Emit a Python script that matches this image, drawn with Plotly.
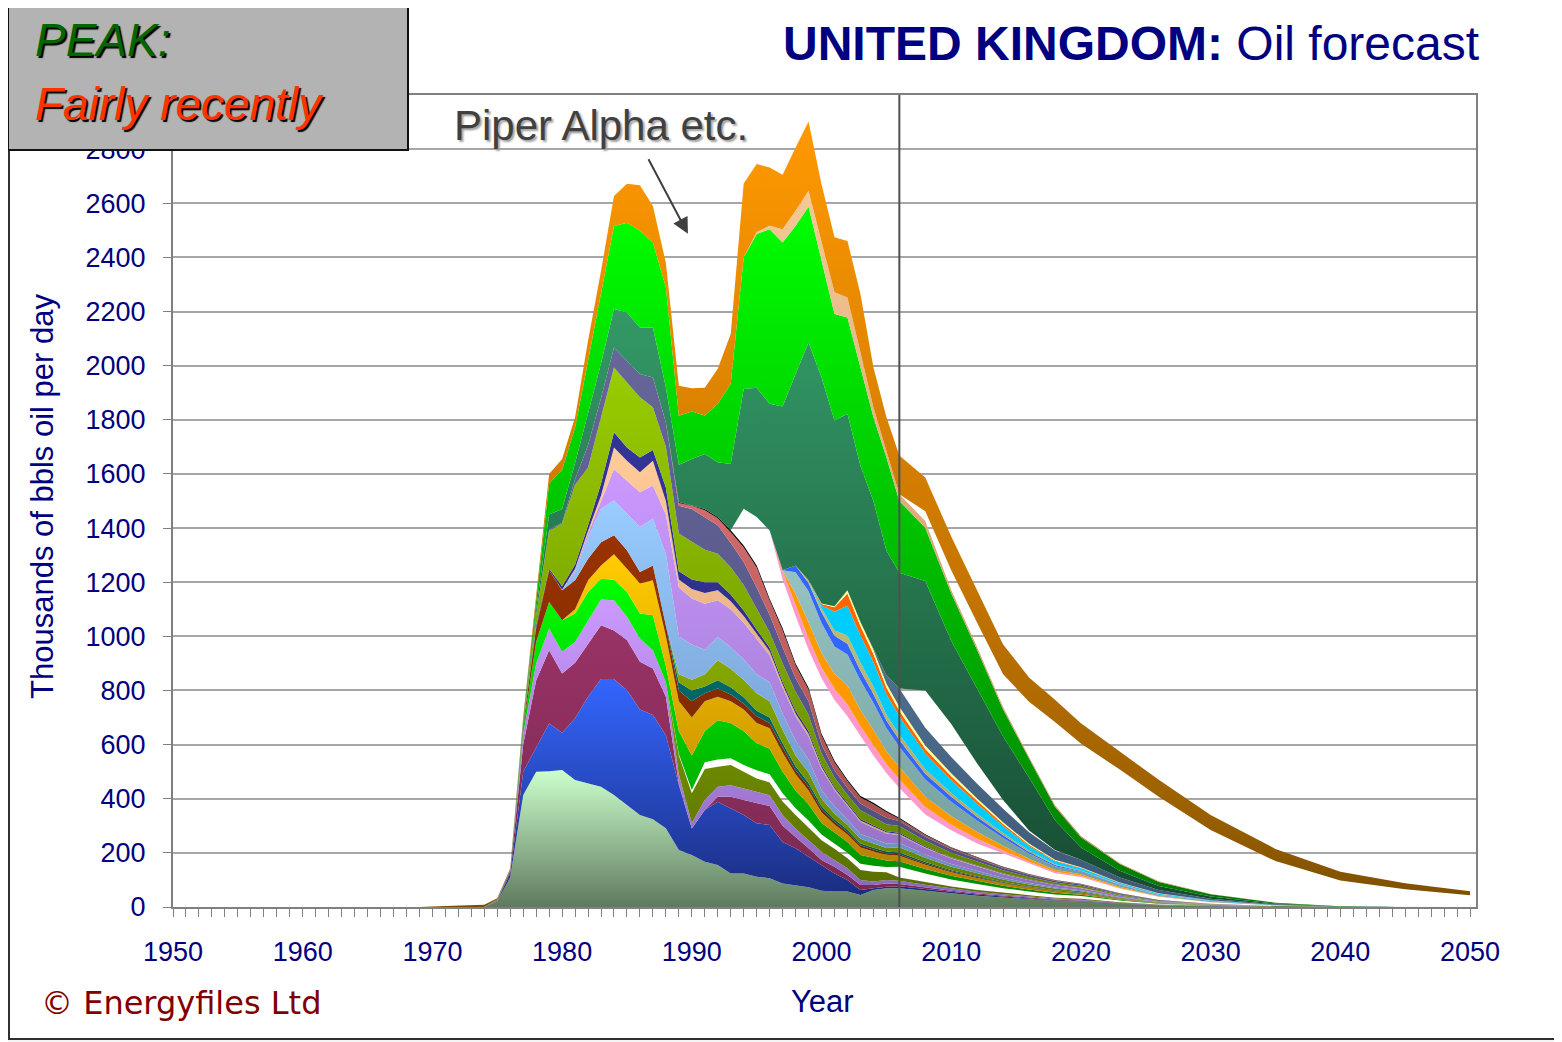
import numpy as np
import plotly.graph_objects as go

# ---------------- DATA (thousand bbl/d, per field group, stacked) ----------------
EARLY_YEARS = [1950, 1969, 1971, 1973, 1974]
HIST_YEARS = list(range(1975, 2007))
FCST_YEARS = [2008, 2010, 2012, 2014, 2016, 2018, 2020, 2023, 2026, 2030, 2035, 2040, 2045, 2050]
TOP_EARLY = [0, 0, 4, 6, 8]

PALE_H = [20,110,414,500,502,506,469,457,444,414,377,340,324,291, 211,192,167,155,124,124,112,106,87,81,73,60,57,57,44,63,69,69]
PALE_F = [60,50,42,35,29,23,20,12,6,3,1,0,0,0]
BLUE_H = [2,15,86,92,176,138,228,320,398,428,424,390,385,344, 239,98,191,234,240,216,197,197,153,136,113,95,67,43,19,6,6,8]
BLUE_F = [6,5,4,3.5,3,2.3,2,1.2,0.6,0.3,0.1,0,0,0]
MAROON_H = [2,8,100,246,271,219,205,196,199,180,185,176,172,142, 5,0,0,18,43,55,74,70,60,43,31,19,25,18,18,12,12,8]
MAROON_F = [6,5,4,3.5,3,2.3,2,1.2,0.6,0.3,0.1,0,0,0]
LILAC_H = [1,2,40,62,80,80,77,86,95,111,86,86,68,53, 35,20,37,37,43,43,43,40,40,30,30,30,25,25,19,13,13,12]
LILAC_F = [10,8,6.6,5.2,4.3,3.5,3.1,1.7,0.9,0.4,0.1,0,0,0]
OLIVE_H = [0,0,0,0,0,0,0,0,0,0,0,0,0,0, 70,110,115,74,75,62,49,47,50,50,48,43,41,37,37,36,28,12]
OLIVE_F = [10,8,6.6,5.2,4.3,3.5,3.1,1.7,0.9,0.4,0.1,0,0,0]
GAP1_H = [0,0,0,0,0,0,0,0,0,0,0,0,0,0, 5,12,25,27,25,25,30,30,30,25,25,21,20,20,23,22,20,40]
GAP1_F = [32,26,22,17,14,12,10,6,3,1.4,0.4,0.2,0,0]
GREEN2_H = [1,1,20,80,98,116,105,105,77,76,92,92,129,60, 85,128,115,145,130,125,100,95,80,65,60,42,40,40,32,31,24,20]
GREEN2_F = [16,13,11,9,7,6,5,3,1.5,0.7,0.2,0.1,0,0]
GOLD_H = [0,0,0,0,0,0,16,43,49,94,86,111,129,110, 110,140,110,87,80,80,75,75,70,60,50,40,30,28,28,22,21,20]
GOLD_F = [16,13,11,9,7,6,5,3,1.5,0.7,0.2,0.1,0,0]
BROWN_H = [1,1,12,50,117,111,107,80,86,70,68,43,55,40, 40,60,30,30,25,22,25,20,20,15,15,12,10,9,8,7,6,6]
BROWN_F = [5,4,3.3,2.6,2.2,1.7,1.5,0.9,0.5,0.2,0.1,0,0,0]
TEAL_H = [0,0,0,0,0,0,0,0,0,0,0,0,0,0, 30,40,25,31,27,23,20,20,15,15,13,10,9,8,7,7,6,6]
TEAL_F = [5,4,3.3,2.6,2.2,1.7,1.5,0.9,0.5,0.2,0.1,0,0,0]
YG2_H = [0,0,0,0,0,0,0,0,0,0,0,0,0,0, 30,40,45,74,68,65,65,60,50,40,39,28,21,18,17,15,13,20]
YG2_F = [16,13,11,9,7,6,5,3,1.5,0.7,0.2,0.1,0,0]
LBLUE_H = [0,0,0,0,0,0,31,80,123,129,135,166,173,265, 140,130,90,86,80,75,70,70,60,55,48,32,27,20,18,18,17,15]
LBLUE_F = [12,10,8,6.5,5.4,4.4,3.8,2.2,1.1,0.5,0.2,0,0,0]
LILAC2_H = [0,0,0,0,0,0,7,13,29,116,122,128,122,145, 180,170,170,135,140,135,130,100,95,90,85,78,60,52,45,40,37,30]
LILAC2_F = [24,20,16.5,13,11,9,7.7,4.4,2.3,1,0.3,0.1,0,0]
PEACH_H = [0,0,0,0,0,2,5,10,20,80,74,74,92,50, 30,35,40,37,30,25,20,15,12,10,10,7,6,5,5,5,4,4]
PEACH_F = [3.2,2.6,2.2,1.7,1.4,1.2,1,0.6,0.3,0.1,0,0,0,0]
NAVY_H = [0,0,3,10,6,13,15,20,45,56,49,55,39,50, 30,35,40,30,25,20,15,13,10,10,10,8,6,5,5,5,4,4]
NAVY_F = [3.2,2.6,2.2,1.7,1.4,1.2,1,0.6,0.3,0.1,0,0,0,0]
YGREEN_H = [1,1,10,40,140,231,295,214,244,239,240,222,158,150, 140,140,120,105,100,95,75,57,68,70,60,42,34,30,32,29,26,25]
YGREEN_F = [20,16.5,14,11,9,7,6.4,3.6,1.9,0.9,0.3,0.1,0,0]
SLATE_H = [0,0,1,2,5,4,20,82,72,74,80,86,110,90, 102,120,120,105,90,85,80,65,60,50,50,33,27,25,25,26,24,19]
SLATE_F = [15,12.5,10.5,8.3,6.8,5.5,4.9,2.8,1.4,0.6,0.2,0.1,0,0]
SALMON_H = [0,0,0,0,0,0,0,0,0,0,0,0,0,0, 11,12,26,26,40,53,74,52,62,47,43,33,29,25,23,23,20,8]
SALMON_F = [6.5,5.3,4.4,3.5,2.9,2.3,2,1.2,0.6,0.3,0.1,0,0,0]
BLACK_H = [0,0,0,0,0,0,0,0,0,0,0,0,0,0, 3,2,4,5,7,8,8,7,8,8,7,7,6,5,5,5,5,4]
BLACK_F = [3.2,2.6,2.2,1.7,1.4,1.2,1,0.6,0.3,0.1,0,0,0,0]
GAPA_H = [0,0,0,0,0,0,0,0,0,0,0,0,0,0, 0,0,0,0,0,135,179,252,180,175,140,205,225,235,220,175,140,110]
GAPA_F = [73,62,50,49,37,25,25,18,12,6,2,0,0,0]
PINK_H = [0,0,0,0,0,0,0,0,0,0,0,0,0,0,0,0,0,0,0,0,0,0, 30,42,42,39,42,43,38,37,33,32]
PINK_F = [27,21,17,11,8,5,4,2,1,0,0,0,0,0]
ORANGE2_H = [0,0,0,0,0,0,0,0,0,0,0,0,0,0,0,0,0,0,0,0,0,0, 4,40,60,55,55,70,60,58,48,45]
ORANGE2_F = [38,32,25,17,11,8,6,4,2,1,0,0,0,0]
GRAYCYAN_H = [0,0,0,0,0,0,0,0,0,0,0,0,0,0,0,0,0,0,0,0,0,0, 0,80,115,110,100,115,110,100,85,75]
GRAYCYAN_F = [64,53,42,29,19,13,9,6,3,2,1,0,0,0]
BLUE2_H = [0,0,0,0,0,0,0,0,0,0,0,0,0,0,0,0,0,0,0,0,0,0, 0,25,30,40,40,40,35,32,28,25]
BLUE2_F = [21,18,14,10,6,4,3,2,1,1,0,0,0,0]
KHAKI_H = [0,0,0,0,0,0,0,0,0,0,0,0,0,0,0,0,0,0,0,0,0,0, 0,0,10,15,20,30,30,28,22,20]
KHAKI_F = [17,14,11,8,5,3,2,1,1,1,0,0,0,0]
CYAN_H = [0,0,0,0,0,0,0,0,0,0,0,0,0,0,0,0,0,0,0,0,0,0, 0,0,0,10,70,110,100,90,75,68]
CYAN_F = [58,48,38,26,17,11,8,5,3,2,1,0,0,0]
REDOR_H = [0,0,0,0,0,0,0,0,0,0,0,0,0,0,0,0,0,0,0,0,0,0, 0,0,0,5,15,45,35,30,25,20]
REDOR_F = [17,14,11,8,5,3,2,1,1,0,0,0,0,0]
YELLOW_H = [0,0,0,0,0,0,0,0,0,0,0,0,0,0,0,0,0,0,0,0,0,0, 0,0,0,2,4,12,15,15,15,15]
YELLOW_F = [13,11,8,6,4,3,2,1,1,0,0,0,0,0]
STEEL_H = [0,0,0,0,0,0,0,0,0,0,0,0,0,0,0,0,0,0,0,0,0,0,0,0,0,0,0,0,0, 5,30,67]
STEEL_F = [65,60,55,50,42,34,28,18,12,6,2,0,0,0]
GAPB_H = [0,0,0,0,0,0,0,0,0,0,0,0,0,0,0,0,0,0,0,0,0,0,0,0,0,0,0,0,0,0,0,0]
GAPB_F = [138,122,74,32,6,2,0,0,0,0,0,0,0,0]
SEA_H = [0,0,4,18,55,50,60,113,127,142,178,172,185,130, 138,171,204,202,245,443,477,468,605,707,879,836,686,652,577,545,461,428]
SEA_F = [404,308,280,235,196,110,45,25,15,8,3,1,0,0]
GREEN_H = [1,1,7,30,115,145,132,199,256,307,332,357,314,370, 181,176,142,216,296,486,568,645,606,548,501,431,394,356,364,310,345,265]
GREEN_F = [197,175,140,100,70,50,38,25,15,8,3,1,0,0]
TAN_H = [0,0,0,0,0,0,0,0,0,0,0,0,0,0,0,0,0,0,0,0, 8,13,49,55,59,73,80,74,49,36,24,25]
TAN_F = [25,12,10,8,6,5,4,3,2,1,0,0,0,0]
GAPC_H = [0,0,0,0,0,0,0,0,0,0,0,0,0,0,0,0,0,0,0,0,0,0,0,0,0,0,0,0,0,0,0,0]
GAPC_F = [36,73,90,122,204,308,342,346,313,237,154,95,66,43]
TOP_H = [3,3,5,20,35,40,37,74,86,111,144,169,135,90, 111,86,102,130,184,273,251,215,201,234,256,209,203,209,222,148,124,143]
TOP_F = [125,125,120,110,90,82,75,68,62,55,45,32,22,15]

# ---------------- STYLE ----------------
NONE = None
LAYERS = [  # (hist, forecast, colour scale bottom->top)  None => unfilled gap
    (PALE_H, PALE_F, ["#5f7a5f", "#ccffcc"]),
    (BLUE_H, BLUE_F, ["#1a2a7a", "#3366ff"]),
    (MAROON_H, MAROON_F, ["#7a2850", "#993366"]),
    (LILAC_H, LILAC_F, ["#8866bb", "#cc99ff"]),
    (OLIVE_H, OLIVE_F, ["#556b00", "#88aa00"]),
    (GAP1_H, GAP1_F, NONE),
    (GREEN2_H, GREEN2_F, ["#008800", "#00ff00"]),
    (GOLD_H, GOLD_F, ["#b07800", "#ffcc00"]),
    (BROWN_H, BROWN_F, ["#6a2400", "#993300"]),
    (TEAL_H, TEAL_F, ["#004f4f", "#007777"]),
    (YG2_H, YG2_F, ["#5f7f00", "#99bb00"]),
    (LBLUE_H, LBLUE_F, ["#6688bb", "#99ccff"]),
    (LILAC2_H, LILAC2_F, ["#8f6fc0", "#cc99ff"]),
    (PEACH_H, PEACH_F, ["#c89070", "#ffcc99"]),
    (NAVY_H, NAVY_F, ["#2a2a80", "#333399"]),
    (YGREEN_H, YGREEN_F, ["#5f8000", "#99cc00"]),
    (SLATE_H, SLATE_F, ["#4d4d80", "#666699"]),
    (SALMON_H, SALMON_F, ["#a04848", "#e87878"]),
    (BLACK_H, BLACK_F, ["#000000", "#000000"]),
    (GAPA_H, GAPA_F, NONE),
    (PINK_H, PINK_F, ["#ff99cc", "#ff99cc"]),
    (ORANGE2_H, ORANGE2_F, ["#ff9900", "#ff9900"]),
    (GRAYCYAN_H, GRAYCYAN_F, ["#6f9a9a", "#b0dcdc"]),
    (BLUE2_H, BLUE2_F, ["#3366ff", "#3366ff"]),
    (KHAKI_H, KHAKI_F, ["#a8a868", "#cccc77"]),
    (CYAN_H, CYAN_F, ["#00ccff", "#00ccff"]),
    (REDOR_H, REDOR_F, ["#ff6600", "#ff6600"]),
    (YELLOW_H, YELLOW_F, ["#ffff99", "#ffff99"]),
    (STEEL_H, STEEL_F, ["#3d5a78", "#6688aa"]),
    (GAPB_H, GAPB_F, NONE),
    (SEA_H, SEA_F, ["#164a32", "#339966"]),
    (GREEN_H, GREEN_F, ["#007a00", "#00ff00"]),
    (TAN_H, TAN_F, ["#c08a5a", "#f5c896"]),
    (GAPC_H, GAPC_F, NONE),
    (TOP_H, TOP_F, ["#7a4e00", "#9a6000", "#c47400", "#ff9900"]),
]

years = EARLY_YEARS + HIST_YEARS + FCST_YEARS
series = []
for i, (h, f, cols) in enumerate(LAYERS):
    early = TOP_EARLY if i == len(LAYERS) - 1 else [0] * len(EARLY_YEARS)
    series.append(early + list(h) + list(f))
tops = np.cumsum(np.array(series, dtype=float), axis=0)

fig = go.Figure()
for i, (h, f, cols) in enumerate(LAYERS):
    kw = dict(x=years, y=series[i], mode="lines", stackgroup="one",
              line=dict(width=0), hoverinfo="skip", showlegend=False)
    if cols is None:
        kw["fillcolor"] = "rgba(255,255,255,0)"
    else:
        if len(cols) == 2:
            cs = [[0, cols[0]], [1, cols[1]]]
        else:
            cs = [[0, cols[0]], [0.12, cols[1]], [0.4, cols[2]], [1, cols[3]]]
        kw["fillcolor"] = cols[-1]
        kw["fillgradient"] = dict(type="vertical", start=0, stop=float(tops[i].max()),
                                  colorscale=cs)
    fig.add_trace(go.Scatter(**kw))

# ---------------- LAYOUT ----------------
# the page body adds an 8px offset, so the figure is laid out 8px up/left
OFF = 8
W, H = 1562, 1042
PLOT_X0, PLOT_X1, PLOT_Y0, PLOT_Y1 = 173, 1476, 95, 907   # target screen pixels
L = PLOT_X0 - OFF
T = PLOT_Y0 - OFF
R = W - (PLOT_X1 - OFF)
B = H - (PLOT_Y1 - OFF)
PW, PH = PLOT_X1 - PLOT_X0, PLOT_Y1 - PLOT_Y0
def px(x):
    return (x - PLOT_X0) / PW
def py(y):
    return (PLOT_Y1 - y) / PH

NAVYC = "#000080"
FONT = "Liberation Sans, Arial, sans-serif"

fig.update_layout(
    width=W, height=H,
    margin=dict(l=L, r=R, t=T, b=B, pad=0),
    paper_bgcolor="#f4f4f4", plot_bgcolor="white",
    font=dict(family=FONT, color=NAVYC),
    showlegend=False,
    xaxis=dict(range=[1950, 2050.46], tickmode="linear", tick0=1950, dtick=10,
               ticks="outside", ticklen=8, tickwidth=1, tickcolor="#808080",
               showline=True, linecolor="#808080", linewidth=2, mirror=True,
               showgrid=False, zeroline=False, ticklabelstandoff=12,
               tickfont=dict(size=27, color=NAVYC, family=FONT),
               minor=dict(ticks="outside", tick0=1950, dtick=1, ticklen=8,
                          tickcolor="#808080", showgrid=False)),
    yaxis=dict(range=[0, 3000], tickmode="array", tickvals=list(range(0, 2801, 200)),
               ticks="outside", ticklen=8, tickcolor="#808080",
               showline=True, linecolor="#808080", linewidth=2, mirror=True,
               showgrid=True, gridcolor="#a6a6a6", gridwidth=1.5, zeroline=False,
               ticklabelstandoff=12, tickfont=dict(size=27, color=NAVYC, family=FONT)),
)

shapes = [
    dict(type="rect", xref="paper", yref="paper", x0=px(9), x1=px(1558), y0=py(1039), y1=py(3),
         fillcolor="white", line=dict(color="#303030", width=2), layer="below"),
    dict(type="line", xref="x", yref="y", x0=2006, x1=2006, y0=0, y1=3000,
         line=dict(color="#505050", width=2), layer="above"),
    dict(type="rect", xref="paper", yref="paper", x0=px(8), x1=px(408), y0=py(150), y1=py(3),
         fillcolor="#b3b3b3", line=dict(color="#111111", width=2), layer="above"),
]
fig.update_layout(shapes=shapes)

ann = [
    dict(text="<b>UNITED KINGDOM:</b> Oil forecast", xref="paper", yref="paper",
         x=px(1481), y=py(44), xanchor="right", yanchor="middle", showarrow=False,
         font=dict(size=48, color=NAVYC, family=FONT)),
    dict(text="PEAK:", xref="paper", yref="paper", x=px(33), y=py(40),
         xanchor="left", yanchor="middle", showarrow=False,
         font=dict(size=46, color="#006600", family=FONT, style="italic",
                   shadow="2px 2px 1px #000000")),
    dict(text="Fairly recently", xref="paper", yref="paper", x=px(33), y=py(104),
         xanchor="left", yanchor="middle", showarrow=False,
         font=dict(size=46, color="#ff3300", family=FONT, style="italic",
                   shadow="2px 2px 1px #000000")),
    dict(text="Piper Alpha etc.", xref="x", yref="y", x=1971.5, y=(PLOT_Y1 - 125) / 0.2707,
         xanchor="left", yanchor="middle", showarrow=False,
         font=dict(size=42, color="#404040", family=FONT, shadow="2px 2px 2px #a0a0a0")),
    dict(text="", xref="x", yref="y", x=1989.7, y=2487, axref="x", ayref="y",
         ax=1986.6, ay=2768, showarrow=True, arrowhead=2, arrowsize=1.6,
         arrowwidth=2, arrowcolor="#404040"),
    dict(text="Thousands of bbls oil per day", xref="paper", yref="paper",
         x=px(42), y=py(497), xanchor="center", yanchor="middle", textangle=-90,
         showarrow=False, font=dict(size=31, color=NAVYC, family=FONT)),
    dict(text="Year", xref="paper", yref="paper", x=px(822), y=py(1001),
         xanchor="center", yanchor="middle", showarrow=False,
         font=dict(size=31, color=NAVYC, family=FONT)),
    dict(text="© Energyfiles Ltd", xref="paper", yref="paper", x=px(39), y=py(1003),
         xanchor="left", yanchor="middle", showarrow=False,
         font=dict(size=32, color="#800000", family="DejaVu Sans, Verdana, sans-serif")),
]
fig.update_layout(annotations=ann)

fig.write_html("out.html")
